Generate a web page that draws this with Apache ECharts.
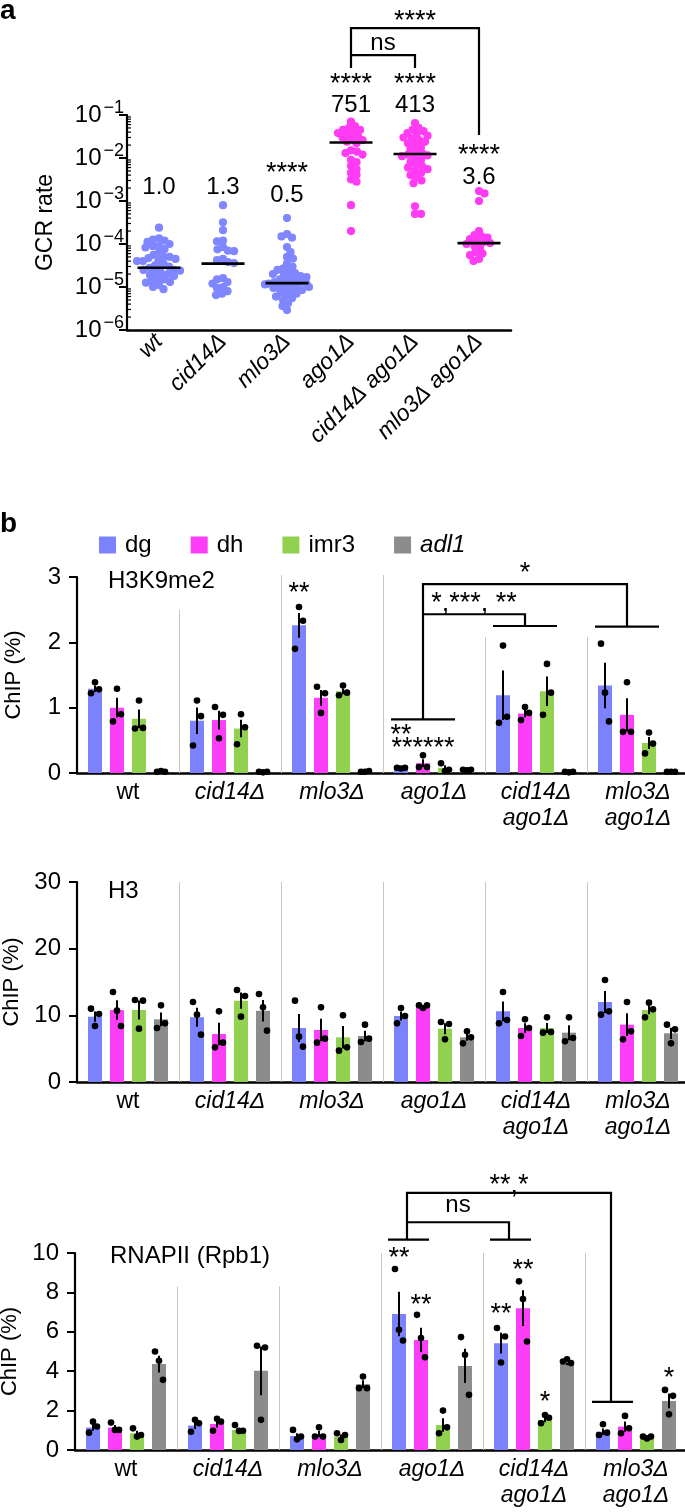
<!DOCTYPE html>
<html><head><meta charset="utf-8">
<script src="https://cdn.jsdelivr.net/npm/echarts/dist/echarts.min.js"></script>
<style>html,body{margin:0;padding:0;background:#fff}#c{width:685px;height:1512px}</style>
</head><body><div id="c"></div>
<script>
// ================= DATA =================
// Panel a: GCR rates
const strainsA = ['wt','cid14Δ','mlo3Δ','ago1Δ','cid14Δ ago1Δ','mlo3Δ ago1Δ'];
const gcrWt = [2.4e-4,1.35e-4,1.26e-4,1.2e-4,1.12e-4,1.0e-4,8.9e-5,8.9e-5,8.3e-5,7.6e-5,6.3e-5,5.6e-5,5.0e-5,5.0e-5,4.7e-5,4.5e-5,4.2e-5,4.0e-5,4.0e-5,3.5e-5,3.2e-5,3.0e-5,2.8e-5,2.7e-5,2.5e-5,2.5e-5,2.4e-5,2.2e-5,2.0e-5,2.0e-5,1.9e-5,1.8e-5,1.6e-5,1.5e-5,1.4e-5,1.3e-5,1.26e-5,1.12e-5,1.0e-5,8.9e-6];
const gcrCid14 = [8.0e-4,3.2e-4,2.1e-4,1.2e-4,1.15e-4,8.5e-5,7.5e-5,7.0e-5,6.8e-5,4.5e-5,4.2e-5,3.8e-5,3.6e-5,1.6e-5,1.5e-5,1.3e-5,1.2e-5,1.0e-5,9.5e-6,8.0e-6,7.0e-6,6.5e-6];
const gcrMlo3 = [4.0e-4,1.7e-4,1.5e-4,1.4e-4,8.5e-5,6.5e-5,5.0e-5,4.6e-5,3.5e-5,3.0e-5,2.7e-5,2.5e-5,2.3e-5,2.1e-5,2.0e-5,1.9e-5,1.8e-5,1.7e-5,1.6e-5,1.5e-5,1.4e-5,1.3e-5,1.3e-5,1.25e-5,1.2e-5,1.2e-5,1.15e-5,1.1e-5,1.05e-5,1.0e-5,1.0e-5,9.5e-6,9.0e-6,8.5e-6,8.0e-6,7.5e-6,7.0e-6,6.5e-6,6.0e-6,5.5e-6,5.0e-6,4.2e-6,3.6e-6,2.9e-6];
const gcrAgo1 = [7.0e-2,5.5e-2,5.0e-2,4.5e-2,4.5e-2,4.0e-2,3.8e-2,3.5e-2,3.2e-2,3.0e-2,2.8e-2,2.6e-2,2.4e-2,2.2e-2,1.5e-2,1.4e-2,1.3e-2,1.2e-2,9.0e-3,8.0e-3,6.5e-3,5.5e-3,4.5e-3,4.0e-3,3.2e-3,2.8e-3,8.0e-4,2.0e-4];
const gcrCid14Ago1 = [6.5e-2,5.0e-2,4.5e-2,4.2e-2,3.8e-2,3.5e-2,3.3e-2,3.0e-2,2.8e-2,2.6e-2,2.4e-2,2.2e-2,2.0e-2,1.8e-2,1.6e-2,1.4e-2,1.3e-2,1.2e-2,1.15e-2,1.1e-2,1.0e-2,9.0e-3,8.0e-3,7.0e-3,6.5e-3,6.0e-3,5.5e-3,5.0e-3,4.5e-3,4.0e-3,3.5e-3,3.0e-3,2.6e-3,7.5e-4,5.0e-4,5.0e-4];
const gcrMlo3Ago1 = [1.7e-3,1.5e-3,1.0e-3,2.0e-4,1.6e-4,1.5e-4,1.4e-4,1.3e-4,1.2e-4,1.1e-4,1.05e-4,1.0e-4,9.0e-5,8.0e-5,6.5e-5,6.0e-5,5.5e-5,4.5e-5,4.0e-5];
const gcrMedians = [2.8e-5,3.5e-5,1.23e-5,2.3e-2,1.24e-2,1.05e-4];
const gcrFold = ['1.0','1.3','0.5','751','413','3.6'];
const gcrSig = ['','','****','****','****','****'];

// Panel b
const strainsB = ['wt','cid14Δ','mlo3Δ','ago1Δ','cid14Δ\nago1Δ','mlo3Δ\nago1Δ'];
const targets = ['dg','dh','imr3','adl1'];
// H3K9me2
const h3k9Dg   = [1.29,0.80,2.26,0.08,1.19,1.34];
const h3k9Dh   = [1.00,0.81,1.15,0.15,0.91,0.89];
const h3k9Imr3 = [0.83,0.68,1.25,0.08,1.25,0.46];
const h3k9Adl1 = [0.02,0.02,0.02,0.05,0.02,0.02];
const h3k9DgReps   = [[1.22,1.39,1.28],[0.42,1.11,0.87],[1.90,2.54,2.33],[0.08,0.07,0.08],[0.77,1.95,0.86],[1.98,1.23,0.79]];
const h3k9DhReps   = [[0.79,1.29,0.90],[1.01,0.53,0.89],[1.32,0.92,1.22],[0.09,0.27,0.09],[0.81,1.01,0.92],[0.63,1.39,0.63]];
const h3k9Imr3Reps = [[0.68,1.11,0.69],[0.44,0.90,0.70],[1.19,1.34,1.23],[0.15,0.03,0.05],[0.89,1.67,1.23],[0.30,0.62,0.45]];
const h3k9Adl1Reps = [[0.02,0.03,0.02],[0.02,0.01,0.02],[0.02,0.02,0.03],[0.05,0.04,0.05],[0.02,0.01,0.02],[0.02,0.02,0.02]];
// H3
const h3Dg   = [9.8,9.7,8.1,9.9,10.6,12.0];
const h3Dh   = [10.8,7.2,7.8,11.3,8.1,8.6];
const h3Imr3 = [10.8,12.2,6.7,8.0,8.1,10.8];
const h3Adl1 = [9.4,10.7,6.9,6.7,7.4,7.3];
const h3DgReps   = [[11.0,8.4,10.2],[12.0,10.1,7.1],[12.2,6.8,5.3],[8.8,11.1,9.9],[8.8,13.5,9.3],[10.1,15.3,10.6]];
const h3DhReps   = [[13.5,10.7,8.4],[5.2,10.6,5.9],[5.9,11.2,6.5],[11.5,11.1,11.5],[6.9,9.4,8.1],[6.4,12.0,7.6]];
const h3Imr3Reps = [[12.3,8.0,12.2],[13.8,9.8,12.9],[4.7,10.0,5.2],[9.0,6.4,8.7],[7.4,9.7,7.5],[9.7,11.9,10.9]];
const h3Adl1Reps = [[8.1,11.5,8.8],[13.2,11.2,7.7],[6.0,8.6,6.5],[5.8,7.6,6.7],[6.1,9.7,6.6],[8.6,5.8,7.9]];
// RNAPII (Rpb1)
const polDg   = [1.14,1.24,0.71,6.9,5.42,0.93];
const polDh   = [1.14,1.32,0.81,5.59,7.2,1.19];
const polImr3 = [0.85,1.02,0.68,1.27,1.53,0.64];
const polAdl1 = [4.36,4.02,3.34,4.27,4.36,2.49];
const polDgReps   = [[0.88,1.44,1.19],[0.93,1.53,1.36],[1.02,0.54,0.68],[9.19,6.10,5.56],[6.19,4.44,5.76],[0.76,1.31,0.88]];
const polDhReps   = [[1.39,1.02,1.02],[0.98,1.58,1.44],[0.68,1.15,0.68],[6.86,5.68,4.71],[8.56,7.66,5.51],[0.85,1.73,1.10]];
const polImr3Reps = [[1.10,0.68,0.76],[1.27,0.97,0.98],[0.85,0.51,0.76],[0.85,2.00,1.15],[1.36,1.78,1.64],[0.68,0.59,0.68]];
const polAdl1Reps = [[5.00,4.53,3.56],[5.29,1.53,5.20],[3.14,3.73,3.14],[5.73,4.83,2.80],[4.49,4.61,4.41],[3.05,1.81,2.75]];

// ================= STYLE / LAYOUT =================
const FONT = '"Liberation Sans", Arial, Helvetica, sans-serif';
const FS = 23, TFS = 24, STAR_FS = 27;
const COL = ['#7c82fb', '#fd3ef8', '#92d050', '#8c8c8c'];
const DOT_A = ['#7f86ff', '#ff3cf4'];
const BAR_W = 14, BAR_STEP = 22;
const R_A = 4.1;

function sem(a){const m=a.reduce((s,v)=>s+v,0)/a.length;const v=a.reduce((s,x)=>s+(x-m)*(x-m),0)/(a.length-1);return Math.sqrt(v/a.length);}
function ln(x1,y1,x2,y2,w){return {type:'line',shape:{x1,y1,x2,y2},style:{stroke:'#000',lineWidth:w||2.2}};}
function poly(pts){return {type:'polyline',shape:{points:pts},style:{stroke:'#000',lineWidth:2.2,fill:null}};}
function txt(x,y,s,fs,extra){return Object.assign({type:'text',style:{text:s,x:x,y:y,fontSize:fs||FS,fontFamily:FONT,fill:'#000',textAlign:'center',textVerticalAlign:'middle',align:'center',verticalAlign:'middle'}},extra||{});}
function star(x,yVis,s){return txt(x,yVis+0.22*STAR_FS,s,STAR_FS);}

// ---- beeswarm for panel a (layout of overlapping points)
function beeswarm(ys, r){
  const order=ys.map((y,i)=>i).sort((a,b)=>ys[a]-ys[b]);
  const off=new Array(ys.length), placed=[], d=2*r*0.72;
  order.forEach((i,n)=>{
    const y=ys[i]; let best=null;
    for(let s=0;s<=80&&best===null;s+=0.5){
      const signs=(n%2)?[1,-1]:[-1,1];
      for(const sg of signs){const x=s*sg; if(placed.every(q=>(q.x-x)*(q.x-x)+(q.y-y)*(q.y-y)>=d*d)){best=x;break;}}
    }
    off[i]=Math.max(-22,Math.min(22,best)); placed.push({x:off[i],y});
  });
  return off;
}
const gcrGroups=[gcrWt,gcrCid14,gcrMlo3,gcrAgo1,gcrCid14Ago1,gcrMlo3Ago1];
const scatterData=[], scatterIdx=[];
gcrGroups.forEach((arr,g)=>arr.forEach((v,j)=>{scatterData.push([g,v]);scatterIdx.push([g,j]);}));
let swarm=null;

const series=[];
// panel a points
series.push({type:'custom',xAxisIndex:0,yAxisIndex:0,data:scatterData,encode:{x:0,y:1},clip:false,silent:true,z:2,
  renderItem(p,api){
    if(!swarm){swarm=gcrGroups.map((arr,g)=>beeswarm(arr.map(v=>api.coord([g,v])[1]),R_A));}
    const [g,j]=scatterIdx[p.dataIndex];
    const c=api.coord([g,gcrGroups[g][j]]);
    return {type:'circle',shape:{cx:c[0]+swarm[g][j],cy:c[1],r:R_A},style:{fill:DOT_A[g<3?0:1]}};
  }});
// medians
series.push({type:'custom',xAxisIndex:0,yAxisIndex:0,data:gcrMedians.map((m,g)=>[g,m]),encode:{x:0,y:1},silent:true,z:3,
  renderItem(p,api){const c=api.coord([api.value(0),api.value(1)]);return ln(c[0]-21.5,c[1],c[0]+21.5,c[1],2.6);}});
// minor log ticks (axis decoration, inside the axis)
const minorTicks=[];
for(let e=-6;e<-1;e++){for(let m=2;m<=9;m++){minorTicks.push([0,m*Math.pow(10,e)]);}}
series.push({type:'custom',xAxisIndex:0,yAxisIndex:0,data:minorTicks,encode:{y:1},silent:true,clip:false,z:3,
  renderItem(p,api){const c=api.coord([0,api.value(1)]);const x0=api.coord([0,1e-3])[0]-api.size([1,0])[0]/2;return ln(x0,c[1],x0+4,c[1],1.2);}});
// panel a annotations
series.push({type:'custom',xAxisIndex:0,yAxisIndex:0,data:[[0,1e-3]],encode:{x:0,y:1},silent:true,clip:false,z:4,
  renderItem(p,api){
    const X=g=>api.coord([g,1e-3])[0], Y=v=>api.coord([0,v])[1];
    const foldY=[2.1e-3,2.1e-3,1.38e-3,0.171,0.171,3.6e-3];
    const sigY=[0,0,5.9e-3,0.69,0.69,1.54e-2];
    const ch=[];
    gcrFold.forEach((s,g)=>ch.push(txt(X(g),Y(foldY[g]),s,TFS)));
    gcrSig.forEach((s,g)=>{if(s)ch.push(star(X(g),Y(sigY[g]),s));});
    ch.push(poly([[X(3),Y(1.24)],[X(3),Y(10.5)],[X(5),Y(10.5)],[X(5),Y(0.0343)]]));
    ch.push(poly([[X(3),Y(2.48)],[X(4),Y(2.48)],[X(4),Y(1.24)]]));
    ch.push(txt((X(3)+X(4))/2,Y(4.7),'ns',TFS));
    ch.push(star((X(3)+X(5))/2,Y(21),'****'));
    return {type:'group',children:ch};
  }});

// ---- panel b helpers
function barSeries(gi,means){return targets.map((t,k)=>({type:'bar',name:t,xAxisIndex:gi,yAxisIndex:gi,data:means[k],barWidth:BAR_W,barGap:'57.1%',itemStyle:{color:COL[k]},z:2,silent:true}));}
function repSeries(gi,means,reps){
  const data=[];
  for(let g=0;g<6;g++)for(let k=0;k<4;k++){data.push([g,k,means[k][g],reps[k][g][0],reps[k][g][1],reps[k][g][2]]);}
  return {type:'custom',xAxisIndex:gi,yAxisIndex:gi,data,encode:{x:0,y:2},silent:true,clip:false,z:3,
    renderItem(p,api){
      const g=api.value(0),k=api.value(1),m=api.value(2);
      const rp=[api.value(3),api.value(4),api.value(5)];
      const cx=api.coord([g,0])[0]+(k-1.5)*BAR_STEP;
      const s=sem(rp);
      const ch=[ln(cx,api.coord([g,m+s])[1],cx,api.coord([g,Math.max(0,m-s)])[1],2)];
      const offs=[-4,0,4];
      rp.forEach((v,j)=>ch.push({type:'circle',shape:{cx:cx+offs[j],cy:api.coord([g,v])[1],r:3.3},style:{fill:'#000'}}));
      return {type:'group',children:ch};
    }};
}
function sepSeries(gi,tops){
  return {type:'custom',xAxisIndex:gi,yAxisIndex:gi,data:tops.map((t,i)=>[i,t]),encode:{x:0,y:1},silent:true,clip:false,z:1,
    renderItem(p,api){const i=api.value(0),t=api.value(1);const x=Math.round(api.coord([i,0])[0]+api.size([1,0])[0]/2)+0.5;
      return {type:'line',shape:{x1:x,y1:api.coord([i,0])[1],x2:x,y2:api.coord([i,t])[1]},style:{stroke:'#c6c6c6',lineWidth:1}};}};
}
function annotSeries(gi,fn){return {type:'custom',xAxisIndex:gi,yAxisIndex:gi,data:[[0,0]],encode:{x:0,y:1},silent:true,clip:false,z:4,
  renderItem(p,api){const X=(g,o)=>api.coord([g,0])[0]+o, Y=v=>api.coord([0,v])[1];return {type:'group',children:fn(X,Y)};}};}

// H3K9me2
series.push(...barSeries(1,[h3k9Dg,h3k9Dh,h3k9Imr3,h3k9Adl1]));
series.push(repSeries(1,[h3k9Dg,h3k9Dh,h3k9Imr3,h3k9Adl1],[h3k9DgReps,h3k9DhReps,h3k9Imr3Reps,h3k9Adl1Reps]));
series.push(sepSeries(1,[2.5,3.03,3.03,2.08,2.08]));
series.push(annotSeries(1,(X,Y)=>[
  ln(X(3,-43),Y(0.82),X(3,21),Y(0.82)),
  ln(X(4,-43),Y(2.25),X(4,21),Y(2.25)),
  ln(X(5,-43),Y(2.24),X(5,21),Y(2.24)),
  poly([[X(3,-11),Y(0.82)],[X(3,-11),Y(2.89)],[X(5,-11),Y(2.89)],[X(5,-11),Y(2.24)]]),
  poly([[X(3,-11),Y(2.43)],[X(4,-11),Y(2.43)],[X(4,-11),Y(2.25)]]),
  star((X(3,-11)+X(4,-11))/2,Y(2.68),'*,***, **'),
  star((X(3,-11)+X(5,-11))/2,Y(3.14),'*'),
  star(X(2,-33),Y(2.83),'**'),
  star(X(3,-33),Y(0.66),'**'),
  star(X(3,-11),Y(0.46),'******')
]));
// H3
series.push(...barSeries(2,[h3Dg,h3Dh,h3Imr3,h3Adl1]));
series.push(repSeries(2,[h3Dg,h3Dh,h3Imr3,h3Adl1],[h3DgReps,h3DhReps,h3Imr3Reps,h3Adl1Reps]));
series.push(sepSeries(2,[30,30,30,30,30]));
// RNAPII
series.push(...barSeries(3,[polDg,polDh,polImr3,polAdl1]));
series.push(repSeries(3,[polDg,polDh,polImr3,polAdl1],[polDgReps,polDhReps,polImr3Reps,polAdl1Reps]));
series.push(sepSeries(3,[8.3,8.3,10,10,10]));
series.push(annotSeries(3,(X,Y)=>[
  ln(X(3,-44),Y(10.68),X(3,-3),Y(10.68)),
  ln(X(4,-44),Y(10.68),X(4,-3),Y(10.68)),
  ln(X(5,-44),Y(2.44),X(5,-3),Y(2.44)),
  poly([[X(3,-25),Y(10.68)],[X(3,-25),Y(13.05)],[X(5,-25),Y(13.05)],[X(5,-25),Y(2.44)]]),
  poly([[X(3,-25),Y(11.56)],[X(4,-25),Y(11.56)],[X(4,-25),Y(10.68)]]),
  txt((X(3,-25)+X(4,-25))/2,Y(12.3)-2,'ns',TFS),
  star((X(3,-25)+X(5,-25))/2,Y(13.73),'**,*'),
  star(X(3,-33),Y(10.0),'**'),
  star(X(3,-11),Y(7.63),'**'),
  star(X(4,-33),Y(7.17),'**'),
  star(X(4,-11),Y(9.4),'**'),
  star(X(4,11),Y(2.71),'*'),
  star(X(5,33),Y(3.91),'*')
]));

const axLine={show:true,lineStyle:{color:'#000',width:2.2}};
function xB(gi){return {gridIndex:gi,type:'category',data:strainsB,axisLine:{show:true,lineStyle:{color:'#000',width:2.5}},axisTick:{show:false},
  axisLabel:{interval:0,margin:7,color:'#000',fontSize:FS,lineHeight:26,fontFamily:FONT,
    formatter:v=>v==='wt'?'{n|wt}':v.split('\n').map(s=>'{i|'+s+'}').join('\n'),
    rich:{n:{fontSize:FS,fontFamily:FONT,lineHeight:26,color:'#000'},i:{fontSize:FS,fontFamily:FONT,fontStyle:'italic',lineHeight:26,color:'#000'}}}};}
function yB(gi,max,interval){return {gridIndex:gi,type:'value',min:0,max,interval,name:'ChIP (%)',nameLocation:'middle',nameGap:52,
  nameTextStyle:{fontSize:22,color:'#000',fontFamily:FONT},axisLine:axLine,axisTick:{show:true,length:8,lineStyle:{color:'#000',width:2}},
  splitLine:{show:false},axisLabel:{margin:16,color:'#000',fontSize:TFS,fontFamily:FONT}};}

const option={
  animation:false,
  textStyle:{fontFamily:FONT},
  grid:[
    {left:127,top:115,width:384,height:215,outerBoundsMode:'none'},
    {left:77,top:577,width:612,height:196,outerBoundsMode:'none'},
    {left:77,top:882,width:612,height:200,outerBoundsMode:'none'},
    {left:75,top:1253,width:612,height:197,outerBoundsMode:'none'}
  ],
  legend:{top:528,left:94,itemWidth:17,itemHeight:17,itemGap:39,icon:'rect',selectedMode:false,
    textStyle:{fontSize:TFS,color:'#000',fontFamily:FONT,padding:[0,0,0,4]},
    data:['dg','dh','imr3',{name:'adl1',textStyle:{fontStyle:'italic',fontSize:TFS,color:'#000',padding:[0,0,0,4]}}]},
  graphic:[
    {type:'text',left:0,top:-3,style:{text:'a',font:'bold 28px '+FONT,fill:'#000'}},
    {type:'text',left:0,top:510,style:{text:'b',font:'bold 28px '+FONT,fill:'#000'}},
    {type:'text',left:108,top:569,style:{text:'H3K9me2',font:TFS+'px '+FONT,fill:'#000'}},
    {type:'text',left:108,top:879,style:{text:'H3',font:TFS+'px '+FONT,fill:'#000'}},
    {type:'text',left:110,top:1244,style:{text:'RNAPII (Rpb1)',font:TFS+'px '+FONT,fill:'#000'}}
  ],
  xAxis:[
    {gridIndex:0,type:'category',data:strainsA,axisLine:{show:true,lineStyle:{color:'#000',width:2.5}},axisTick:{show:false},
      axisLabel:{interval:0,rotate:45,margin:8,color:'#000',fontSize:FS,fontStyle:'italic',fontFamily:FONT}},
    xB(1),xB(2),xB(3)
  ],
  yAxis:[
    {gridIndex:0,type:'log',logBase:10,min:1e-6,max:1e-1,splitNumber:5,name:'GCR rate',nameLocation:'middle',nameGap:70,
      nameTextStyle:{fontSize:FS,color:'#000',fontFamily:FONT},axisLine:axLine,
      axisTick:{show:true,length:8,lineStyle:{color:'#000',width:2}},splitLine:{show:false},minorTick:{show:false},
      axisLabel:{margin:3,color:'#000',formatter:v=>'{b|10}{s|−'+Math.round(-Math.log10(v))+'}',
        rich:{b:{fontSize:TFS,fontFamily:FONT,color:'#000'},s:{fontSize:18,fontFamily:FONT,color:'#000',padding:[0,0,13,2]}}}},
    yB(1,3,1),yB(2,30,10),yB(3,10,2)
  ],
  series
};
const chart=echarts.init(document.getElementById('c'),null,{renderer:'canvas'});
chart.setOption(option);
</script></body></html>
